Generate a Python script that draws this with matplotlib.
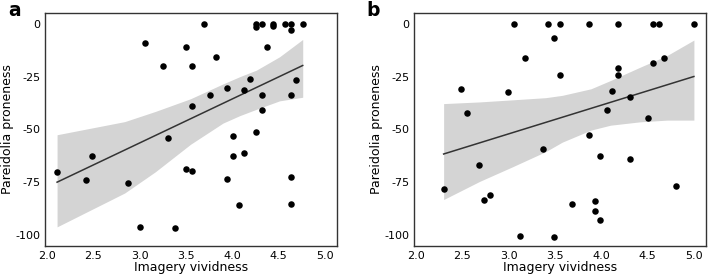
import matplotlib
matplotlib.use("Agg")
import matplotlib.pyplot as plt
import numpy as np

# panel a: imagery vividness vs pareidolia proneness
a_x = [2.11, 2.42, 2.49, 2.87, 3.00, 3.06, 3.25, 3.31, 3.38, 3.50, 3.50, 3.57, 3.57, 3.57,
       3.69, 3.76, 3.82, 3.94, 3.94, 4.01, 4.01, 4.07, 4.13, 4.13, 4.19, 4.26, 4.26, 4.26,
       4.32, 4.32, 4.32, 4.38, 4.44, 4.44, 4.57, 4.63, 4.63, 4.63, 4.63, 4.63, 4.69, 4.76]
a_y = [-70.2, -73.8, -62.4, -75.1, -96.2, -9.2, -20.2, -54.2, -96.6, -11.0, -68.8, -20.2,
       -38.9, -69.4, 0.0, -33.9, -15.7, -30.3, -73.2, -53.0, -62.7, -85.7, -31.5, -61.0,
       -26.2, 0.0, -1.6, -51.4, 0.0, -33.9, -40.6, -11.0, 0.0, -1.1, 0.0, 0.0, -3.0, -33.9,
       -72.3, -85.0, -26.6, 0.0]
a_fit_x = [2.11, 4.76]
a_fit_y = [-74.9, -19.8]
a_band_x = [2.11, 2.84, 3.17, 3.55, 3.90, 4.08, 4.26, 4.51, 4.76]
a_band_hi = [-52.5, -46.3, -41.5, -35.5, -28.5, -25.1, -22.0, -15.7, -7.5]
a_band_lo = [-96.0, -80.0, -70.0, -57.0, -47.0, -43.5, -40.5, -36.5, -34.8]

# panel b
b_x = [2.30, 2.49, 2.55, 2.68, 2.74, 2.80, 2.99, 3.06, 3.12, 3.18, 3.37, 3.43, 3.49, 3.49,
       3.56, 3.56, 3.68, 3.87, 3.87, 3.93, 3.93, 3.99, 3.99, 4.06, 4.12, 4.18, 4.18, 4.18,
       4.31, 4.31, 4.50, 4.56, 4.56, 4.62, 4.68, 4.81, 5.00]
b_y = [-78.3, -30.9, -42.2, -66.9, -83.3, -80.9, -32.3, 0.0, -100.3, -16.1, -59.1, 0.0,
       -6.9, -100.8, 0.0, -24.4, -85.0, 0.0, -52.8, -83.8, -88.3, -62.7, -92.8, -40.8, -32.0,
       0.0, -21.1, -24.4, -34.7, -64.1, -44.7, 0.0, -18.8, 0.0, -16.1, -76.6, 0.0]
b_fit_x = [2.30, 5.00]
b_fit_y = [-61.6, -25.0]
b_band_x = [2.30, 2.69, 3.05, 3.40, 3.58, 3.89, 4.10, 4.42, 4.71, 5.00]
b_band_hi = [-37.8, -37.0, -36.0, -35.0, -33.9, -30.8, -26.9, -20.6, -15.1, -7.8]
b_band_lo = [-83.1, -74.5, -67.5, -60.5, -56.0, -50.3, -48.0, -46.4, -45.6, -45.6]

xticks = [2.0, 2.5, 3.0, 3.5, 4.0, 4.5, 5.0]
yticks = [0, -25, -50, -75, -100]

fig = plt.figure(figsize=(7.08, 2.76), dpi=100)
ax_a = fig.add_axes([0.0636, 0.109, 0.4124, 0.844])
ax_b = fig.add_axes([0.5847, 0.109, 0.4124, 0.844])

panels = [
    (ax_a, a_x, a_y, a_fit_x, a_fit_y, a_band_x, a_band_hi, a_band_lo, "a", 0.012),
    (ax_b, b_x, b_y, b_fit_x, b_fit_y, b_band_x, b_band_hi, b_band_lo, "b", 0.517),
]

for ax, x, y, fx, fy, bx, bhi, blo, letter, lx in panels:
    ax.fill_between(bx, blo, bhi, color="#d4d4d4", lw=0, zorder=1)
    ax.plot(fx, fy, color="#333333", lw=1.1, zorder=2)
    ax.scatter(x, y, s=22, color="black", zorder=3, linewidths=0)
    ax.set_xlim(1.98, 5.13)
    ax.set_ylim(-105, 5)
    ax.set_xticks(xticks)
    ax.set_yticks(yticks)
    ax.set_xticklabels(["%.1f" % t for t in xticks])
    ax.set_yticklabels([str(t) for t in yticks])
    ax.tick_params(axis="x", length=0, labelsize=8, pad=4)
    ax.tick_params(axis="y", length=0, labelsize=8, pad=3.5)
    ax.set_xlabel("Imagery vividness", fontsize=9, labelpad=0)
    ax.set_ylabel("Pareidolia proneness", fontsize=9, labelpad=1)
    for sp in ax.spines.values():
        sp.set_color("#333333")
        sp.set_linewidth(1.0)
    fig.text(lx, 0.962, letter, fontsize=13.5, fontweight="bold", ha="left", va="center")

fig.savefig("out.png", dpi=100)
